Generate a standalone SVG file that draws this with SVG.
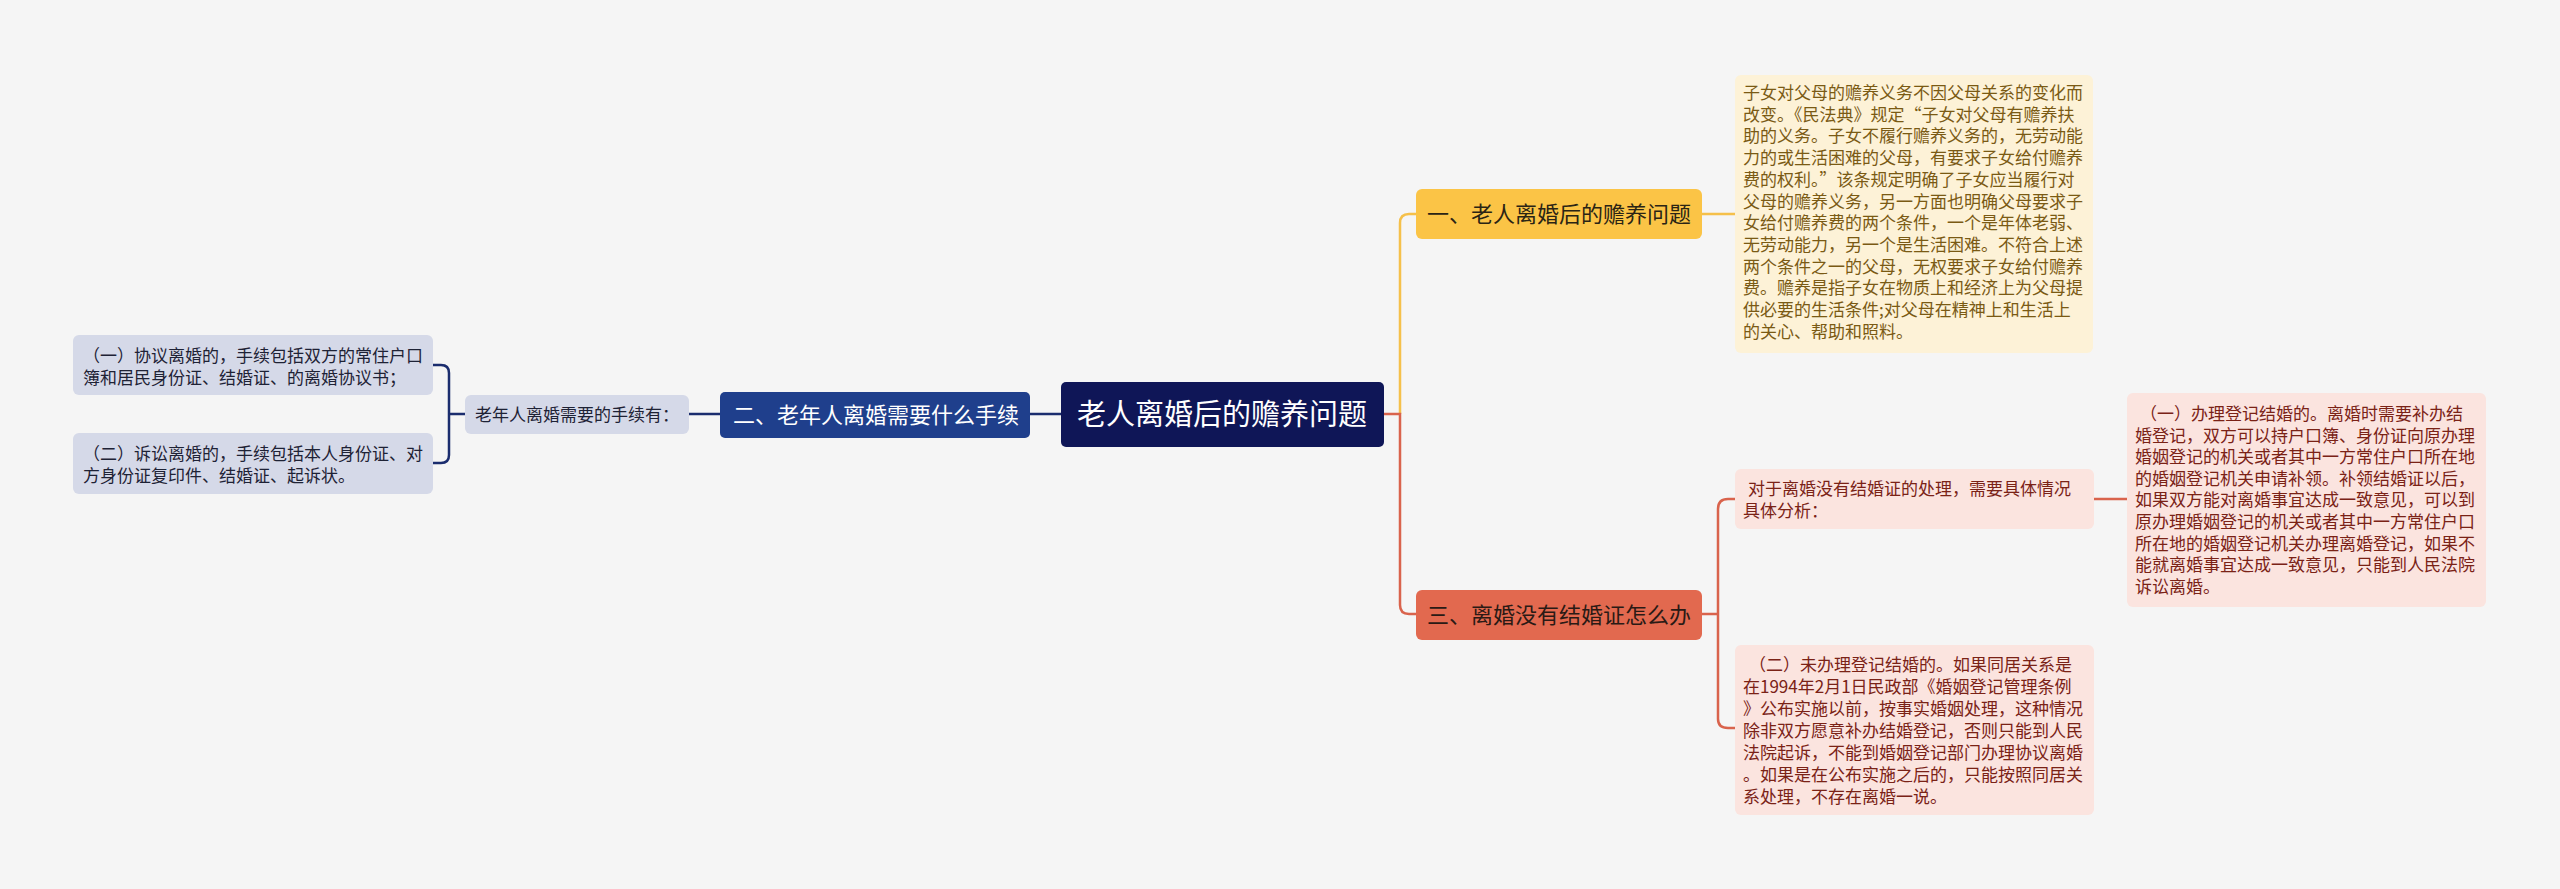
<svg xmlns="http://www.w3.org/2000/svg" width="2560" height="889" viewBox="0 0 2560 889">
<style>
text{font-family:"Noto Sans CJK SC","Noto Sans",sans-serif;}
.t17{font-size:17px;}
.lb{fill:#d5d9e8;}
.lt{fill:#1e2235;}
.yt{fill:#7a5a14;}
.rt{fill:#7a2216;}
.navy{stroke:#1b2d6e;stroke-width:2.5;fill:none;}
.org{stroke:#f5c04a;stroke-width:2.5;fill:none;}
.red{stroke:#d9634c;stroke-width:2.5;fill:none;}
</style>
<rect width="2560" height="889" fill="#f5f5f5"/>
<g id="connectors">
<path class="navy" d="M1061 414 H1030"/>
<path class="navy" d="M720 414 H689"/>
<path class="navy" d="M465 414 H449 M433 365 H441 Q449 365 449 373 V455 Q449 463 441 463 H433"/>
<path class="org" d="M1400 414 V223 Q1400 214 1409 214 H1416"/>
<path class="red" d="M1384 414 H1400 V605 Q1400 614 1409 614 H1416"/>
<path class="org" d="M1702 214 H1735"/>
<path class="red" d="M1702 614 H1718 M1718 614 V509 Q1718 499 1728 499 H1735 M1718 614 V719 Q1718 728 1728 728 H1735"/>
<path class="red" d="M2094 499 H2127"/>
</g>
<g id="root">
<rect x="1061" y="382" width="323" height="65" rx="5" fill="#0f1657"/>
<text x="1077" y="425" font-size="29" fill="#ffffff">老人离婚后的赡养问题</text>
</g>
<g id="n2">
<rect x="720" y="392" width="310" height="46" rx="5" fill="#1f3f8c"/>
<text x="733" y="423" font-size="22" fill="#ffffff">二、老年人离婚需要什么手续</text>
</g>
<g id="n2a">
<rect class="lb" x="465" y="395" width="224" height="39" rx="6"/>
<text class="t17 lt" x="475" y="421">老年人离婚需要的手续有：</text>
</g>
<g id="n2a1">
<rect class="lb" x="73" y="335" width="360" height="60" rx="6"/>
<text class="t17 lt" x="83" y="362">（一）协议离婚的，手续包括双方的常住户口</text>
<text class="t17 lt" x="83" y="384">簿和居民身份证、结婚证、的离婚协议书；</text>
</g>
<g id="n2a2">
<rect class="lb" x="73" y="433" width="360" height="61" rx="6"/>
<text class="t17 lt" x="83" y="460">（二）诉讼离婚的，手续包括本人身份证、对</text>
<text class="t17 lt" x="83" y="482">方身份证复印件、结婚证、起诉状。</text>
</g>
<g id="n1">
<rect x="1416" y="189" width="286" height="50" rx="6" fill="#fbc446"/>
<text x="1427" y="222" font-size="22" fill="#2a2415">一、老人离婚后的赡养问题</text>
</g>
<g id="n1a">
<rect x="1735" y="75" width="358" height="278" rx="6" fill="#fdf2d7"/>
<text class="t17 yt">
<tspan x="1743" y="99">子女对父母的赡养义务不因父母关系的变化而</tspan>
<tspan x="1743" y="120.7">改变。《民法典》规定“子女对父母有赡养扶</tspan>
<tspan x="1743" y="142.4">助的义务。子女不履行赡养义务的，无劳动能</tspan>
<tspan x="1743" y="164.1">力的或生活困难的父母，有要求子女给付赡养</tspan>
<tspan x="1743" y="185.8">费的权利。”该条规定明确了子女应当履行对</tspan>
<tspan x="1743" y="207.5">父母的赡养义务，另一方面也明确父母要求子</tspan>
<tspan x="1743" y="229.2">女给付赡养费的两个条件，一个是年体老弱、</tspan>
<tspan x="1743" y="250.9">无劳动能力，另一个是生活困难。不符合上述</tspan>
<tspan x="1743" y="272.6">两个条件之一的父母，无权要求子女给付赡养</tspan>
<tspan x="1743" y="294.3">费。赡养是指子女在物质上和经济上为父母提</tspan>
<tspan x="1743" y="316">供必要的生活条件;对父母在精神上和生活上</tspan>
<tspan x="1743" y="337.7">的关心、帮助和照料。</tspan>
</text>
</g>
<g id="n3">
<rect x="1416" y="590" width="286" height="50" rx="6" fill="#e2694f"/>
<text x="1427" y="623" font-size="22" fill="#2a1a15">三、离婚没有结婚证怎么办</text>
</g>
<g id="n3a">
<rect x="1735" y="469" width="359" height="60" rx="6" fill="#fbe4df"/>
<text class="t17 rt" x="1748" y="495">对于离婚没有结婚证的处理，需要具体情况</text>
<text class="t17 rt" x="1743" y="517">具体分析：</text>
</g>
<g id="n3a1">
<rect x="2127" y="393" width="359" height="214" rx="6" fill="#fbe4df"/>
<text class="t17 rt">
<tspan x="2140" y="420">（一）办理登记结婚的。离婚时需要补办结</tspan>
<tspan x="2135" y="441.6">婚登记，双方可以持户口簿、身份证向原办理</tspan>
<tspan x="2135" y="463.2">婚姻登记的机关或者其中一方常住户口所在地</tspan>
<tspan x="2135" y="484.8">的婚姻登记机关申请补领。补领结婚证以后，</tspan>
<tspan x="2135" y="506.4">如果双方能对离婚事宜达成一致意见，可以到</tspan>
<tspan x="2135" y="528">原办理婚姻登记的机关或者其中一方常住户口</tspan>
<tspan x="2135" y="549.6">所在地的婚姻登记机关办理离婚登记，如果不</tspan>
<tspan x="2135" y="571.2">能就离婚事宜达成一致意见，只能到人民法院</tspan>
<tspan x="2135" y="592.8">诉讼离婚。</tspan>
</text>
</g>
<g id="n3b">
<rect x="1735" y="645" width="359" height="170" rx="6" fill="#fbe4df"/>
<text class="t17 rt">
<tspan x="1749" y="671">（二）未办理登记结婚的。如果同居关系是</tspan>
<tspan x="1743" y="693">在1994年2月1日民政部《婚姻登记管理条例</tspan>
<tspan x="1743" y="715">》公布实施以前，按事实婚姻处理，这种情况</tspan>
<tspan x="1743" y="737">除非双方愿意补办结婚登记，否则只能到人民</tspan>
<tspan x="1743" y="759">法院起诉，不能到婚姻登记部门办理协议离婚</tspan>
<tspan x="1743" y="781">。如果是在公布实施之后的，只能按照同居关</tspan>
<tspan x="1743" y="803">系处理，不存在离婚一说。</tspan>
</text>
</g>
</svg>
